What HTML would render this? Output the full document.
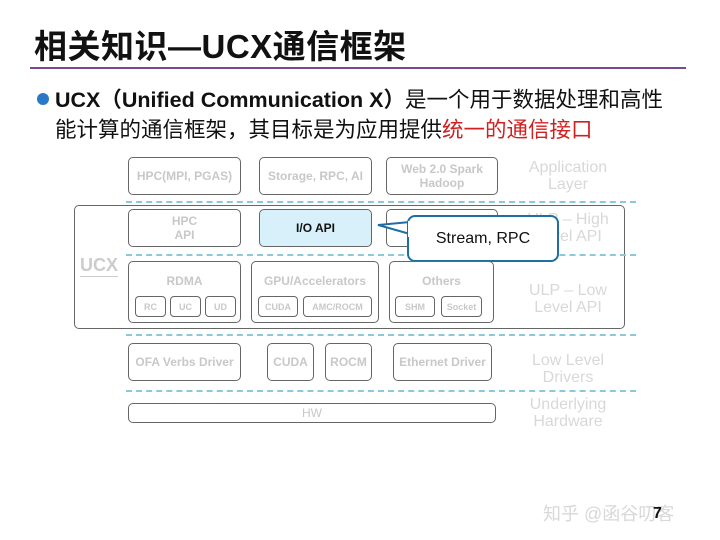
<!DOCTYPE html>
<html><head><meta charset="utf-8"><style>
body{margin:0;width:720px;height:540px;background:#fff;position:relative;overflow:hidden;font-family:"Liberation Sans","Noto Sans CJK SC",sans-serif}
.a{position:absolute}
.b{position:absolute;border:1.5px solid #666;border-radius:5px;box-sizing:border-box;color:#c8c8c8;font-weight:bold;font-size:12px;display:flex;align-items:center;justify-content:center;text-align:center;line-height:14px}
.s{font-size:9px;border-width:1.3px;border-radius:4px}
.d{position:absolute;height:0;border-top:2px dashed #8cc8d8}
.l{position:absolute;color:#d8d8d8;font-size:16px;text-align:center;line-height:17px;width:110px}
</style></head><body>
<div class="a" style="left:34px;top:20px;font-size:33px;font-weight:bold;color:#111;letter-spacing:0.5px">相关知识—UCX通信框架</div>
<div class="a" style="left:30px;top:67px;width:656px;height:2px;background:#7a4a8c"></div>
<div class="a" style="left:37px;top:93px;width:12px;height:12px;border-radius:50%;background:#2a78c8"></div>
<div class="a" style="left:55px;top:85px;font-size:21.5px;color:#111;line-height:30px;white-space:nowrap"><b>UCX（Unified Communication X）</b>是一个用于数据处理和高性<br>能计算的通信框架，其目标是为应用提供<span style="color:#d02020">统一的通信接口</span></div>

<div class="b" style="left:128px;top:157px;width:113px;height:38px">HPC(MPI, PGAS)</div>
<div class="b" style="left:259px;top:157px;width:113px;height:38px">Storage, RPC, AI</div>
<div class="b" style="left:386px;top:157px;width:112px;height:38px">Web 2.0 Spark<br>Hadoop</div>
<div class="l" style="left:513px;top:159px">Application<br>Layer</div>
<div class="d" style="left:126px;top:201px;width:510px"></div>

<div class="a" style="left:74px;top:205px;width:551px;height:124px;border:1.5px solid #666;border-radius:5px;box-sizing:border-box"></div>
<div class="a" style="left:80px;top:255px;font-size:18px;font-weight:bold;color:#ccc;border-bottom:1px solid #ccc">UCX</div>
<div class="b" style="left:128px;top:209px;width:113px;height:38px">HPC<br>API</div>
<div class="b" style="left:259px;top:209px;width:113px;height:38px;background:#d8f0fa;color:#111">I/O API</div>
<div class="b" style="left:386px;top:209px;width:112px;height:38px"></div>
<div class="l" style="left:513px;top:211px">ULP – High<br>Level API</div>
<div class="d" style="left:126px;top:254px;width:510px"></div>

<svg class="a" style="left:370px;top:210px" width="200" height="60"><path d="M40 12 L8 15 L40 24" fill="#fff" stroke="#1f6fa0" stroke-width="2"/></svg>
<div class="a" style="left:407px;top:215px;width:152px;height:47px;border:2px solid #1f6fa0;border-radius:8px;background:#fff;box-sizing:border-box;font-size:16px;color:#111;display:flex;align-items:center;justify-content:center">Stream, RPC</div>
<div class="a" style="left:408px;top:221px;width:4px;height:16px;background:#fff"></div>

<div class="b" style="left:128px;top:261px;width:113px;height:62px;align-items:flex-start;padding-top:12px">RDMA</div>
<div class="b s" style="left:135px;top:296px;width:31px;height:21px">RC</div>
<div class="b s" style="left:170px;top:296px;width:31px;height:21px">UC</div>
<div class="b s" style="left:205px;top:296px;width:31px;height:21px">UD</div>
<div class="b" style="left:251px;top:261px;width:128px;height:62px;align-items:flex-start;padding-top:12px">GPU/Accelerators</div>
<div class="b s" style="left:258px;top:296px;width:40px;height:21px">CUDA</div>
<div class="b s" style="left:303px;top:296px;width:69px;height:21px">AMC/ROCM</div>
<div class="b" style="left:389px;top:261px;width:105px;height:62px;align-items:flex-start;padding-top:12px">Others</div>
<div class="b s" style="left:395px;top:296px;width:40px;height:21px">SHM</div>
<div class="b s" style="left:441px;top:296px;width:41px;height:21px">Socket</div>
<div class="l" style="left:513px;top:282px">ULP – Low<br>Level API</div>
<div class="d" style="left:126px;top:334px;width:510px"></div>

<div class="b" style="left:128px;top:343px;width:113px;height:38px">OFA Verbs Driver</div>
<div class="b" style="left:267px;top:343px;width:47px;height:38px">CUDA</div>
<div class="b" style="left:325px;top:343px;width:47px;height:38px">ROCM</div>
<div class="b" style="left:393px;top:343px;width:99px;height:38px">Ethernet Driver</div>
<div class="l" style="left:513px;top:352px">Low Level<br>Drivers</div>
<div class="d" style="left:126px;top:390px;width:510px"></div>
<div class="b" style="left:128px;top:403px;width:368px;height:20px;font-weight:normal">HW</div>
<div class="l" style="left:513px;top:396px">Underlying<br>Hardware</div>

<div class="a" style="left:543px;top:500px;font-size:18px;color:#d8d8d8">知乎 @函谷叨客</div>
<div class="a" style="left:653px;top:505px;font-size:16px;font-weight:bold;color:#111">7</div>
</body></html>
